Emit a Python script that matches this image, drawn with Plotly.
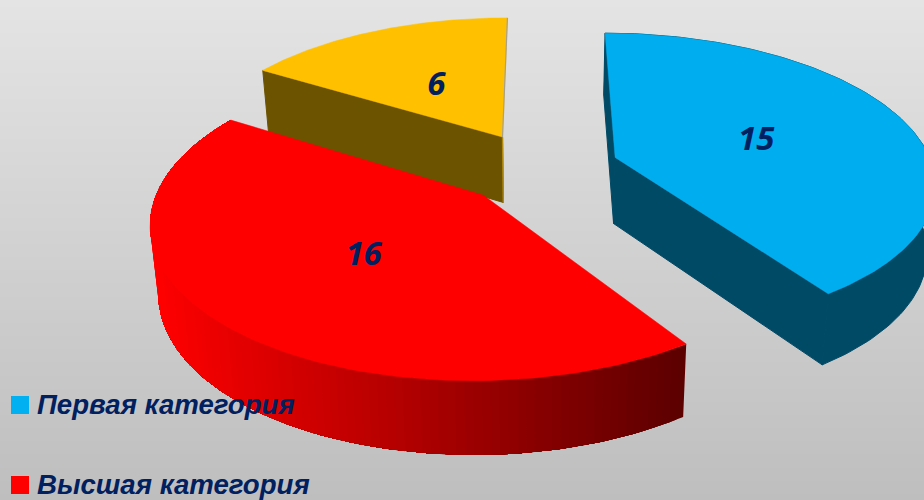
import numpy as np
import plotly.graph_objects as go

categories = ["Первая категория", "Высшая категория", "Третья"]
values = [15, 16, 6]
legend_labels = ["Первая категория", "Высшая категория"]
top_colors = ["#00AEEF", "#FF0000", "#FFC000"]
side_colors = ["#004A66", None, "#6B5300"]

W, H = 924, 500
CX, VP_Y, D = 540.0, -767.0, 935.0   # perspective of the pie plane
R, Q, EXPL = 318.0, 0.157, 0.25       # radius, depth strength, explosion
NAVY = "#002060"
LABEL_DY = 4
LABEL_R = 0.485


def project(u, n):
    w = 1 + Q * n
    return CX + R * u / w, VP_Y + D / w


def extrude(x, y):
    return CX + (x - CX) * 0.979, y * 1.036 + 60.5


def lerp_red(t):
    return "rgb(%d,0,0)" % round(255 + (92 - 255) * t)


fig = go.Figure()
fig.add_trace(go.Heatmap(x=[0, W], y=[0, H], z=[[0, 0], [1, 1]], zsmooth="best", showscale=False,
                         zmin=0, zmax=1, hoverinfo="skip",
                         colorscale=[[0, "#E4E4E4"], [1, "#BEBEBE"]]))


def poly(xs, ys, fill, lw=1.0):
    fig.add_trace(go.Scatter(x=list(xs), y=list(ys), mode="lines", fill="toself", fillcolor=fill,
                             line=dict(color=fill, width=lw), hoverinfo="skip", showlegend=False))


def edge(xs, ys, color, lw=1.0):
    fig.add_trace(go.Scatter(x=list(xs), y=list(ys), mode="lines", line=dict(color=color, width=lw),
                             hoverinfo="skip", showlegend=False))


total = sum(values)
edges = np.cumsum([0] + values) / total * 2 * np.pi
slices = []
for i, v in enumerate(values):
    a0, a1 = edges[i], edges[i + 1]
    mid = (a0 + a1) / 2
    ou, on = EXPL * np.sin(mid), EXPL * np.cos(mid)
    ang = np.linspace(a0, a1, 120)
    ax, ay = project(ou + np.sin(ang), on + np.cos(ang))
    px, py = project(ou, on)
    lx, ly = project(ou + LABEL_R * np.sin(mid), on + LABEL_R * np.cos(mid))
    slices.append(dict(ax=ax, ay=ay, px=px, py=py, lx=lx, ly=ly, i=i))

for s in (slices[2], slices[0], slices[1]):
    ax, ay, px, py, i = s["ax"], s["ay"], s["px"], s["py"], s["i"]
    bx, by = extrude(ax, ay)
    bpx, bpy = extrude(px, py)
    if side_colors[i]:
        c = side_colors[i]
        poly([px, ax[0], bx[0], bpx, px], [py, ay[0], by[0], bpy, py], c)
        if i == 0:  # blue shows both cut faces; yellow's far one is edge-on
            poly([px, ax[-1], bx[-1], bpx, px], [py, ay[-1], by[-1], bpy, py], c)
            poly(list(ax) + list(bx[::-1]), list(ay) + list(by[::-1]), c)
    else:
        lo, hi = 155.0, 685.0
        # Each band runs to the far end of the rim and the next one paints over it, so no seams show.
        for k in range(0, len(ax) - 1):
            t = np.clip((ax[k] - lo) / (hi - lo), 0, 1)
            poly(list(ax[k:]) + list(bx[k:][::-1]), list(ay[k:]) + list(by[k:][::-1]), lerp_red(t), lw=0)
    poly([px] + list(ax) + [px], [py] + list(ay) + [py], top_colors[i], lw=0.5)
    if i == 2:
        edge([ax[-1], px], [ay[-1], py], "#A8A08A", 1.2)
        edge([px, bpx], [py, bpy], "#B08A10", 1.4)

fig.add_trace(go.Scatter(x=[s["lx"] for s in slices], y=[s["ly"] + LABEL_DY for s in slices], mode="text",
                         text=[str(v) for v in values], hoverinfo="skip", showlegend=False,
                         textfont=dict(family="Open Sans", size=33, color=NAVY, weight="bold", style="italic")))

legend_y = [405, 485]
fig.add_trace(go.Scatter(x=[20, 20], y=legend_y, mode="markers", hoverinfo="skip", showlegend=False,
                         marker=dict(symbol="square", size=18, color=["#00B0F0", "#FF0000"])))
fig.add_trace(go.Scatter(x=[37, 37], y=[y + 2 for y in legend_y], mode="text", text=legend_labels,
                         textposition="middle right", hoverinfo="skip", showlegend=False, cliponaxis=False,
                         textfont=dict(family="Liberation Sans", size=27.6, color=NAVY, weight="bold", style="italic")))

fig.update_layout(width=W, height=H, autosize=False, margin=dict(l=0, r=0, t=0, b=0),
                  paper_bgcolor="#D0D0D0", plot_bgcolor="#D0D0D0", showlegend=False,
                  xaxis=dict(range=[0, W], visible=False, fixedrange=True),
                  yaxis=dict(range=[H, 0], visible=False, fixedrange=True))
fig.write_html("out.html", config={"displayModeBar": False},
               post_script="document.body.style.margin='0';document.documentElement.style.overflow='hidden';")
